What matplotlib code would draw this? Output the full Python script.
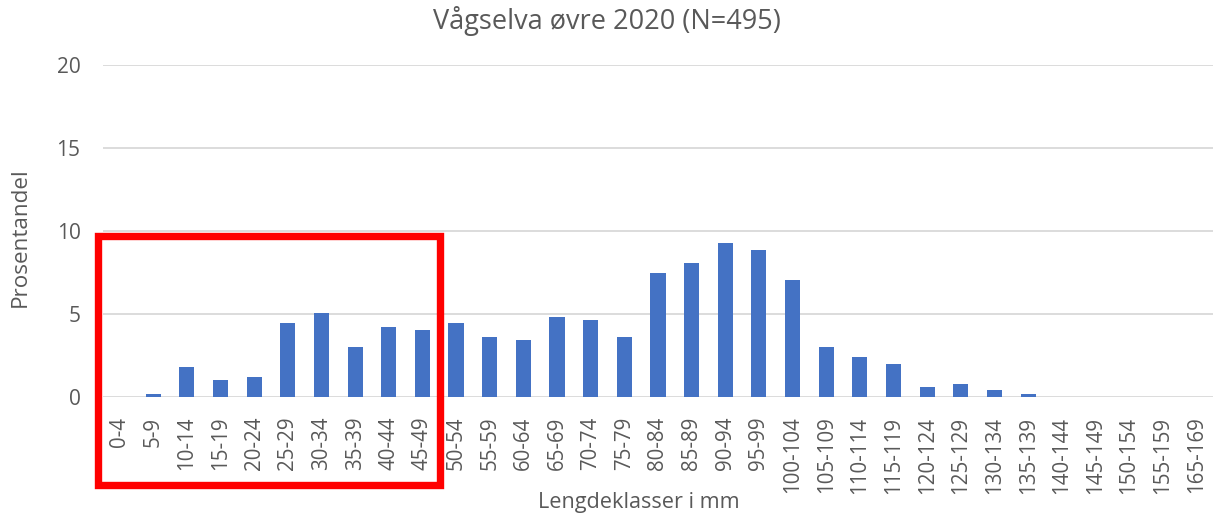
import numpy as np
import matplotlib.pyplot as plt
from matplotlib.patches import Rectangle

plt.rcParams['font.family'] = ['Open Sans', 'DejaVu Sans']

#### data ####
classes = ["0-4", "5-9", "10-14", "15-19", "20-24", "25-29", "30-34", "35-39",
           "40-44", "45-49", "50-54", "55-59", "60-64", "65-69", "70-74", "75-79",
           "80-84", "85-89", "90-94", "95-99", "100-104", "105-109", "110-114",
           "115-119", "120-124", "125-129", "130-134", "135-139", "140-144",
           "145-149", "150-154", "155-159", "165-169"]
counts = [0, 1, 9, 5, 6, 22, 25, 15, 21, 20, 22, 18, 17, 24, 23, 18,
          37, 40, 46, 44, 35, 15, 12, 10, 3, 4, 2, 1, 0, 0, 0, 0, 0]
n_total = 495
percent = np.array(counts) / n_total * 100

text_col = "#595959"

fig = plt.figure(figsize=(12.23, 5.17), dpi=100)
ax = fig.add_axes([0.084, 0.232, 0.908, 0.642])

x = np.arange(len(classes))
ax.bar(x, percent, width=0.45, color="#4472C4", zorder=3)

ax.set_xlim(-0.5, len(classes) - 0.5)
ax.set_ylim(0, 20)
ax.set_yticks([0, 5, 10, 15, 20])
ax.yaxis.grid(True, color="#d9d9d9", linewidth=1.3, zorder=0)
ax.set_axisbelow(True)
for s in ax.spines.values():
    s.set_visible(False)

ax.set_xticks(x)
ax.set_xticklabels(classes, rotation=90, fontsize=14.8, color=text_col)
ax.tick_params(axis="x", length=0, pad=14)
ax.tick_params(axis="y", length=0, pad=16, labelsize=15, labelcolor=text_col)

# titles placed like in the Excel chart (title centred on the whole figure)
fig.text(0.496, 0.944, "Vågselva øvre 2020 (N=495)", fontsize=19.5, color=text_col,
         ha="center", va="baseline")
fig.text(0.0164, 0.542, "Prosentandel", fontsize=16.2, color=text_col,
         rotation=90, ha="center", va="center")
fig.text(0.522, 0.017, "Lengdeklasser i mm", fontsize=15.6, color=text_col,
         ha="center", va="baseline")

# red highlight box round the first ten classes
rect = Rectangle((-0.63, -5.27), 10.16, 14.95, fill=False, edgecolor="#FF0000",
                 linewidth=5.3, clip_on=False, zorder=5)
ax.add_patch(rect)

fig.savefig("out.png", dpi=100)
